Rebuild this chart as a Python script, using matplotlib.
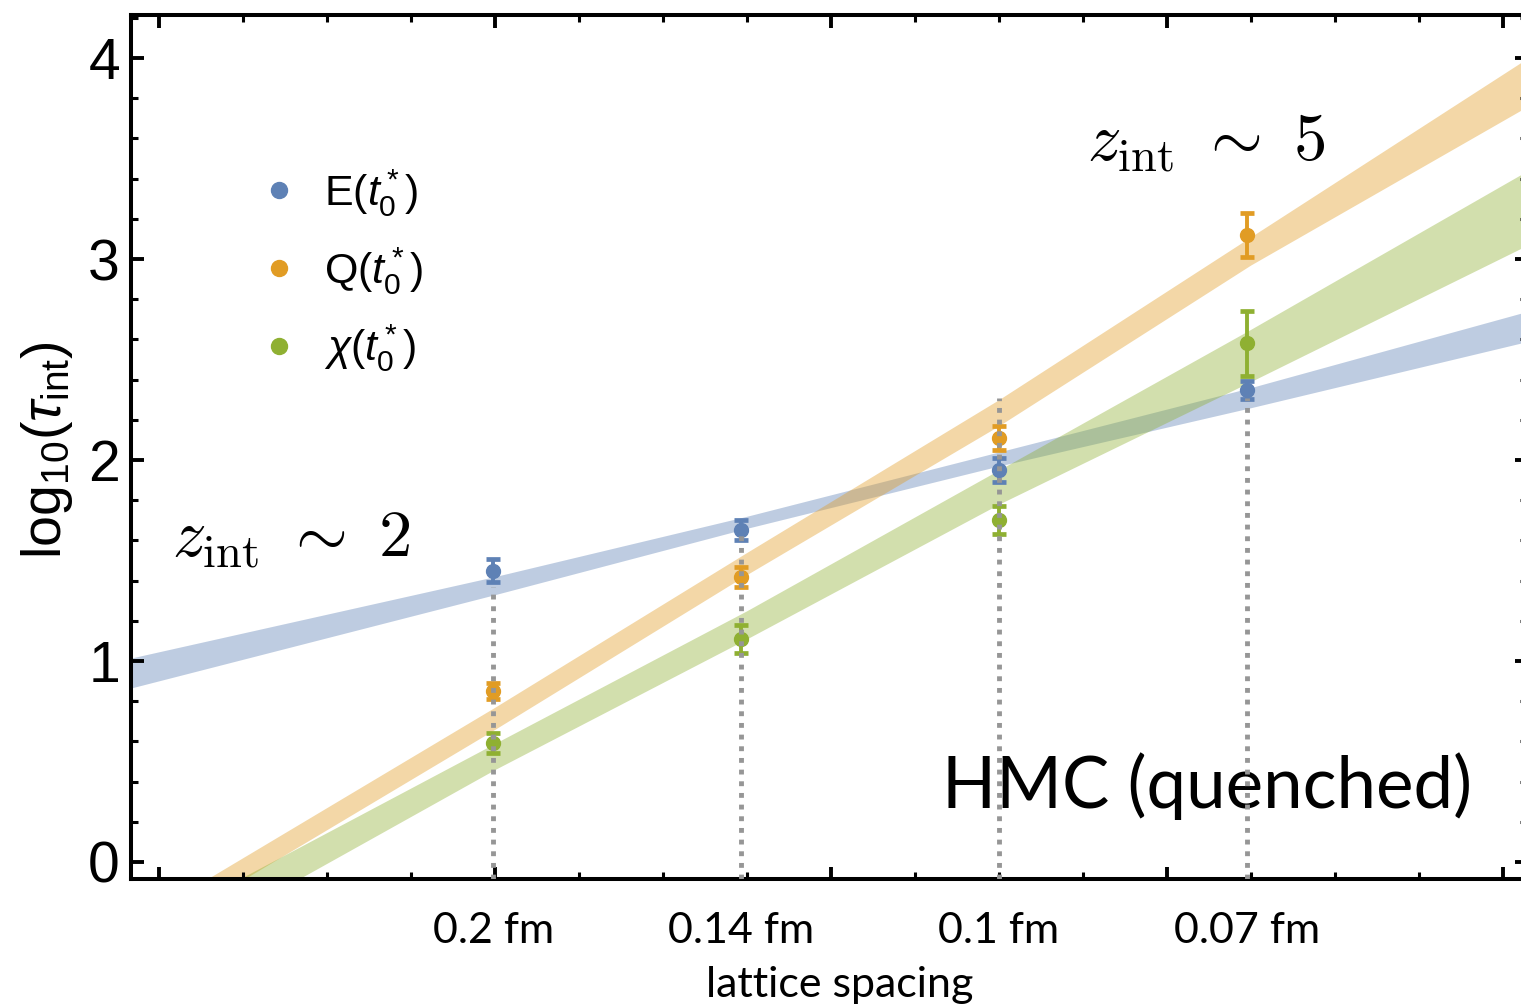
import matplotlib
matplotlib.use("Agg")
import matplotlib.pyplot as plt
from matplotlib.lines import Line2D

# lattice spacings, placed on the axis in units of the minor x ticks
spacing_labels = ["0.2 fm", "0.14 fm", "0.1 fm", "0.07 fm"]
x_data = [-0.02, 2.93, 6.0, 8.96]

# log10(tau_int) per observable
E_val = [1.45, 1.65, 1.95, 2.35]
E_err = [0.055, 0.05, 0.06, 0.045]
Q_val = [0.85, 1.42, 2.11, 3.12]
Q_err = [0.04, 0.05, 0.06, 0.11]
chi_val = [0.59, 1.11, 1.70, 2.58]
chi_err = [0.05, 0.07, 0.07, 0.16]

# fit bands (lower / upper edge) read at a few x positions
band_x = [-4.33, 0, 3, 6, 9, 12.3]
E_lo = [0.866, 1.33, 1.66, 1.97, 2.26, 2.59]
E_hi = [1.015, 1.42, 1.72, 2.04, 2.36, 2.74]
Q_lo = [-0.42, 0.66, 1.43, 2.17, 2.97, 3.76]
Q_hi = [-0.31, 0.77, 1.54, 2.30, 3.11, 4.00]
chi_lo = [-0.55, 0.46, 1.11, 1.78, 2.39, 3.07]
chi_hi = [-0.37, 0.59, 1.25, 1.95, 2.65, 3.44]

# height of the dotted guide at each spacing
guide_top = [1.37, 1.63, 2.31, 2.31]

BLUE, ORANGE, GREEN = "#5E81B5", "#E19C24", "#8FB032"

plt.rcParams["mathtext.fontset"] = "custom"
plt.rcParams["mathtext.rm"] = "Liberation Sans"
plt.rcParams["mathtext.it"] = "Liberation Sans:italic"
plt.rcParams["font.family"] = ["Liberation Sans", "DejaVu Sans"]

fig = plt.figure(figsize=(15.21, 10.06), dpi=100)
W, H = 1521, 1006
ax = fig.add_axes([131 / W, 1 - 879 / H, (1527 - 131) / W, (879 - 15) / H])
ax.set_xlim(-4.333, 12.29)
ax.set_ylim(-0.0846, 4.214)

series = [
    ("E($t_0^*$)", E_val, E_err, E_lo, E_hi, BLUE),
    ("Q($t_0^*$)", Q_val, Q_err, Q_lo, Q_hi, ORANGE),
    ("$\\chi$($t_0^*$)", chi_val, chi_err, chi_lo, chi_hi, GREEN),
]

for label, val, err, lo, hi, col in series:
    ax.fill_between(band_x, lo, hi, color=col, alpha=0.4, lw=0, zorder=1)

for label, val, err, lo, hi, col in series:
    ax.errorbar(x_data, val, yerr=err, fmt="o", color=col, ms=10,
                elinewidth=2.8, capsize=5, capthick=3.4, zorder=3)

ax.vlines(x_data, -0.0846, guide_top, colors="#969696", lw=3.5,
          linestyles=(0, (1, 1.4)), zorder=4)

# frame and ticks
for s in ax.spines.values():
    s.set_linewidth(2.9)
ax.set_yticks([0, 1, 2, 3, 4])
ax.set_yticks([i * 0.2 for i in range(0, 22)], minor=True)
ax.set_xticks([-4, 0, 4, 8, 12])
ax.set_xticks(range(-4, 13), minor=True)
ax.set_xticklabels([])
ax.tick_params(which="both", direction="in", top=True, right=True)
ax.tick_params(which="major", length=9, width=2.8, labelsize=41, pad=8)
ax.tick_params(which="minor", length=5, width=2.2)

xt = ax.get_xaxis_transform()
for x, lab in zip(x_data, spacing_labels):
    ax.text(x, -0.0741, lab, transform=xt, ha="center", va="baseline",
            fontsize=31, family="Lato")
ax.text(0.508, -0.1366, "lattice spacing", transform=ax.transAxes,
        ha="center", va="baseline", fontsize=31, family="Lato")

ax.set_ylabel("log$_{10}$($\\tau_{\\rm int}$)", fontsize=40)
ax.yaxis.set_label_coords(-0.040, 0.497)

ax.text(-3.85, 1.522, "$z_{\\rm int}\\ \\sim\\ 2$", fontsize=48,
        math_fontfamily="cm", va="baseline", ha="left")
ax.text(7.05, 3.49, "$z_{\\rm int}\\ \\sim\\ 5$", fontsize=48,
        math_fontfamily="cm", va="baseline", ha="left")
ax.text(8.48, 0.269, "HMC (quenched)", fontsize=51, family="Lato",
        ha="center", va="baseline")

handles = [Line2D([], [], ls="none", marker="o", ms=11.5, color=c)
           for _, _, _, _, _, c in series]
ax.legend(handles, [s[0] for s in series], loc="upper left",
          bbox_to_anchor=(266 / W, 1 - 167 / H), bbox_transform=fig.transFigure,
          frameon=False, fontsize=31, handlelength=0.6, handletextpad=0.75,
          labelspacing=0.6, borderpad=0, borderaxespad=0)

fig.savefig("out.png", dpi=100)
